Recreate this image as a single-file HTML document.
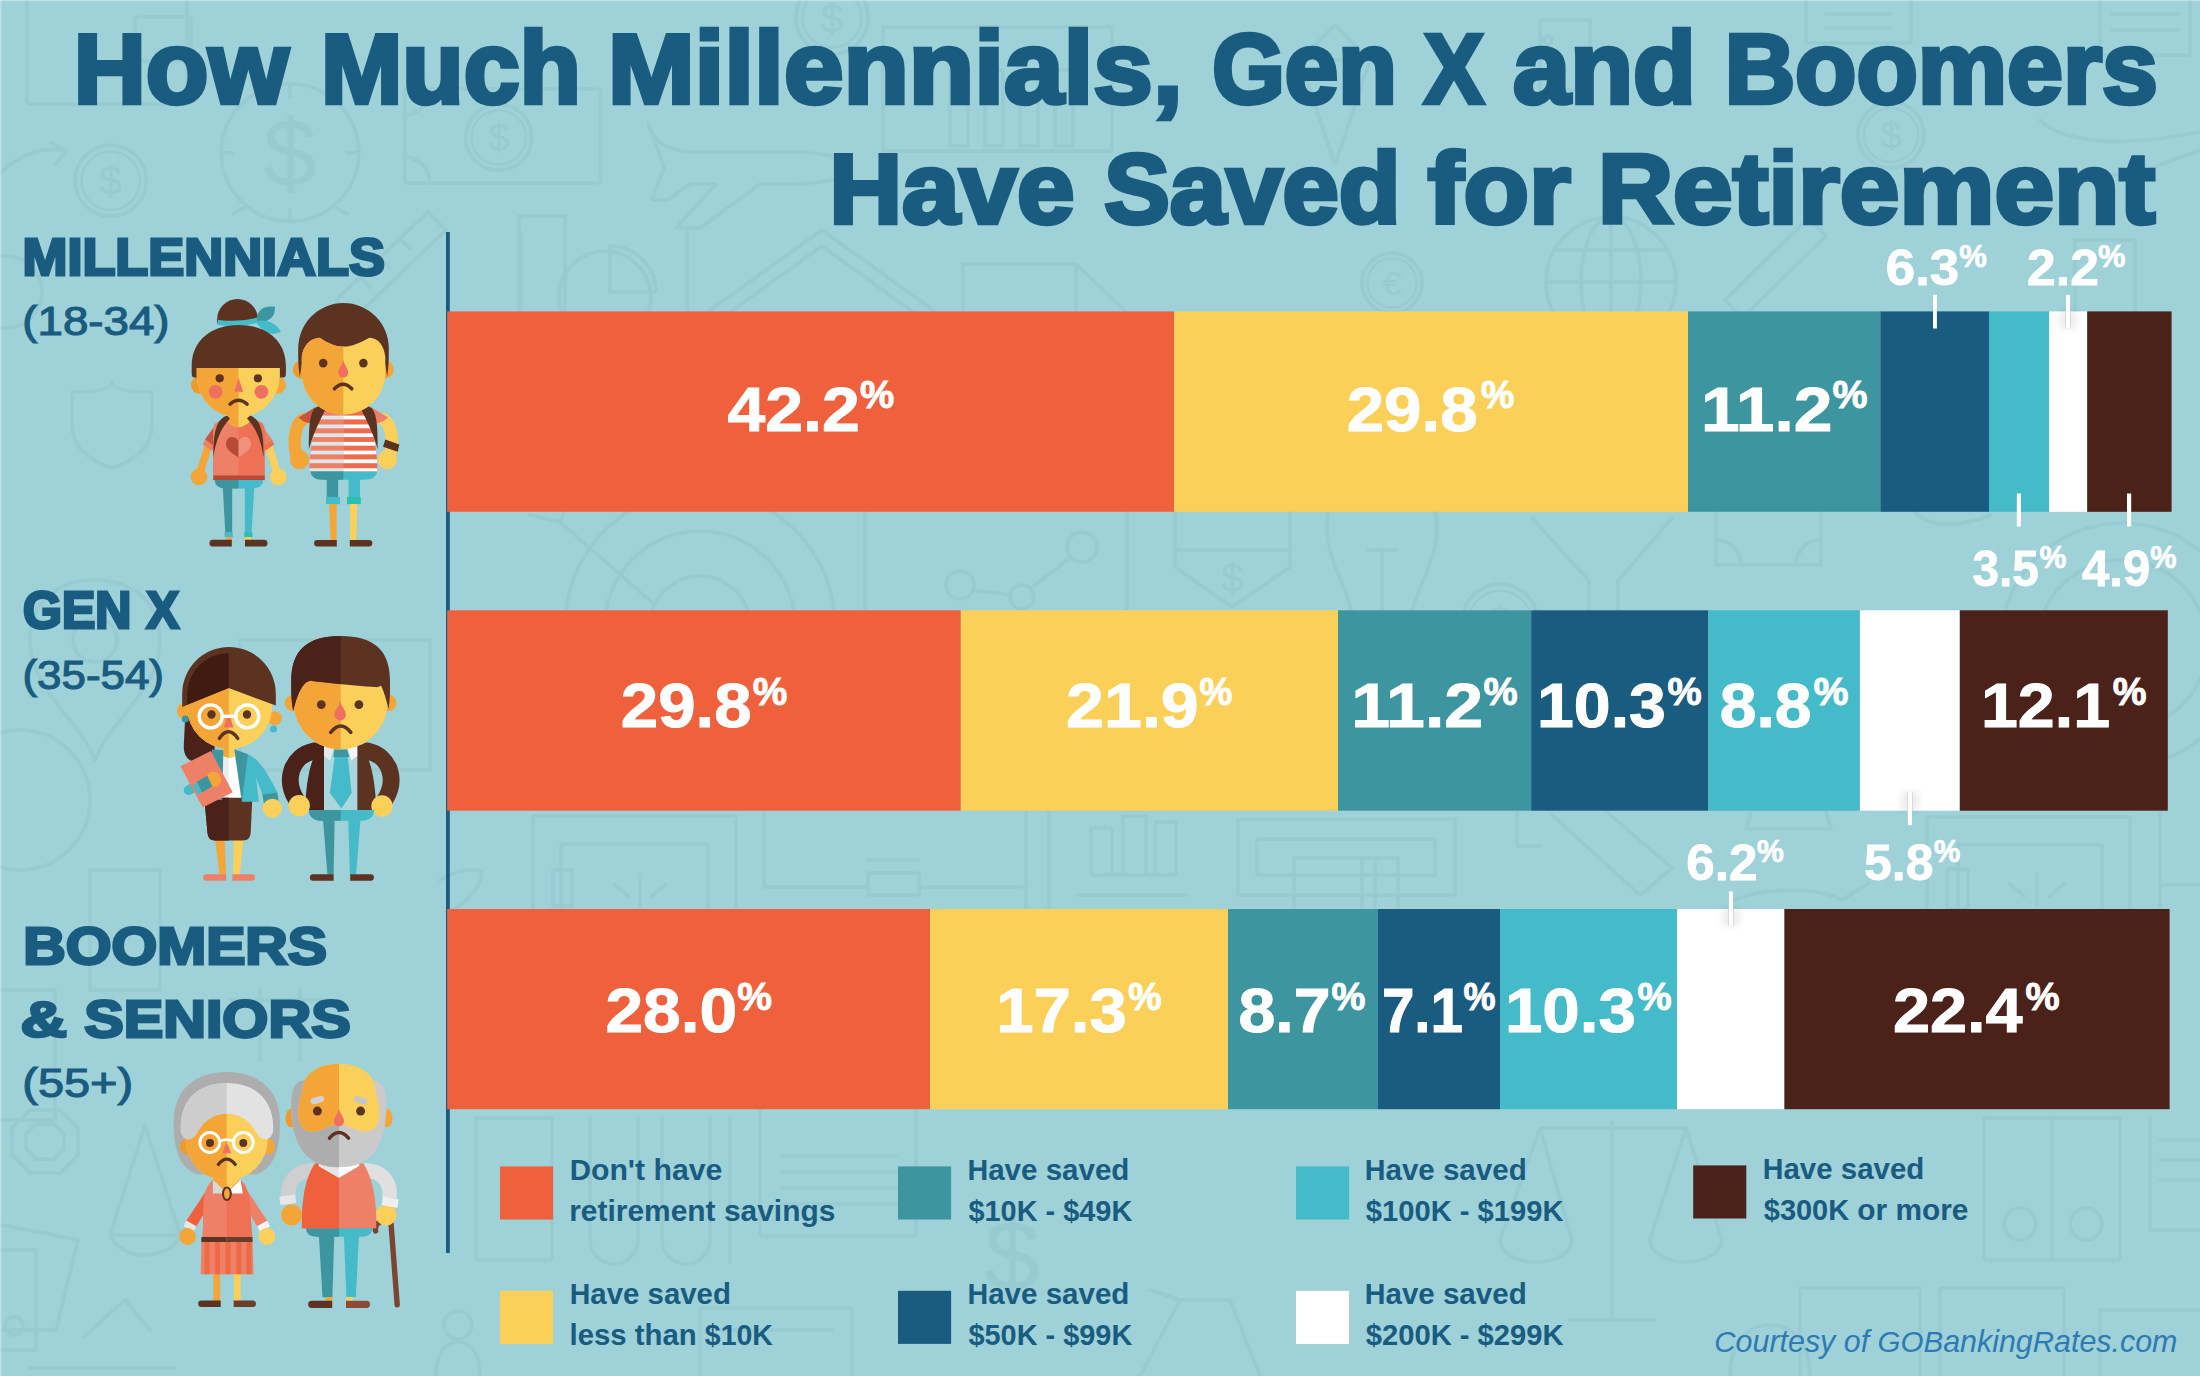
<!DOCTYPE html><html><head><meta charset="utf-8"><title>How Much Millennials, Gen X and Boomers Have Saved for Retirement</title>
<style>html,body{margin:0;padding:0;background:#9ed1d8}body{width:2200px;height:1376px;overflow:hidden;font-family:"Liberation Sans",sans-serif}svg{display:block}text{font-family:"Liberation Sans",sans-serif;white-space:pre}</style></head><body>
<svg width="2200" height="1376" viewBox="0 0 2200 1376">
<rect width="2200" height="1376" fill="#9ed1d8"/>
<g fill="none" stroke="#97cad1" stroke-width="3.6" stroke-linejoin="round" stroke-linecap="round">
<rect x="27" y="-6" width="160" height="110" rx="3"/><rect x="135" y="17" width="56" height="44" rx="2"/>
<circle cx="110.7" cy="180.7" r="35.6"/><circle cx="110.7" cy="180.7" r="29.2" stroke-width="2.4"/>
<text x="110.7" y="195.4" font-size="41" text-anchor="middle" fill="#97cad1" stroke="none">$</text>
<path d="M2,172 A72,72 0 0 1 64,150 M52,143 L66,151 L56,164"/>
<circle cx="290" cy="152.7" r="68.7"/>
<text x="290" y="186" font-size="96" text-anchor="middle" fill="#97cad1" stroke="none">$</text>
<path d="M247,206 L233,214 M333,206 L347,214 M290,84 V96 M290,209 V221 M221,152.7 H233 M347,152.7 H359"/>
<rect x="404.6" y="89" width="196" height="94" rx="2"/>
<circle cx="498.7" cy="137.4" r="33"/><circle cx="498.7" cy="137.4" r="27.1" stroke-width="2.4"/>
<text x="498.7" y="151.1" font-size="38" text-anchor="middle" fill="#97cad1" stroke="none">$</text>
<path d="M404.6,115 A26,26 0 0 0 430,89 M404.6,157 A26,26 0 0 1 430,183"/>
<path d="M336,300 L428,212 L446,230 L354,318 Z M400,239 L410,249 M380,258 L390,268 M360,277 L370,287"/>
<rect x="519" y="216" width="46" height="102"/>
<circle cx="6" cy="292" r="36"/>
<path d="M72,392 Q112,392 112,382 Q112,392 152,392 V425 Q152,455 112,468 Q72,455 72,425 Z"/>
<path d="M648,122 C652,140 664,150 690,152 L790,152 C830,152 848,160 848,168 C848,176 830,184 790,184 L760,184 L700,228 H676 L716,184 H690 L668,200 H652 L664,168 L648,122 Z"/>
<path d="M709,311 L821.8,230 L934.5,311 M722,318 L821.8,246 L921.5,318"/>
<rect x="963" y="264" width="113" height="60"/><path d="M1076,264 L1125,311"/>
<circle cx="604.8" cy="297.3" r="46"/><path d="M610,246 V292 H656 A46,46 0 0 0 610,246 Z"/>
<path d="M520.7,232 V311 M687,232 V311"/>
<rect x="883" y="27" width="229" height="124"/>
<rect x="950" y="70" width="18" height="76"/>
<rect x="985" y="70" width="18" height="76"/>
<rect x="1020" y="70" width="18" height="76"/>
<rect x="1055" y="70" width="18" height="76"/>
<circle cx="832" cy="18" r="36"/><circle cx="832" cy="18" r="29.5" stroke-width="2.4"/>
<text x="832" y="32.9" font-size="41" text-anchor="middle" fill="#97cad1" stroke="none">$</text>
<path d="M1300,60 L1335,25 L1370,60 L1335,165 Z M1300,60 H1370"/>
<circle cx="1392" cy="283" r="30"/><circle cx="1392" cy="283" r="24.6" stroke-width="2.4"/>
<text x="1392" y="295.4" font-size="34" text-anchor="middle" fill="#97cad1" stroke="none">€</text>
<circle cx="1611" cy="282" r="65"/><ellipse cx="1611" cy="282" rx="30" ry="65"/><path d="M1546,282 H1676 M1611,217 V347 M1556,250 H1666"/>
<path d="M1725,300 L1808,218 L1826,236 L1742,318 Z"/>
<circle cx="1891" cy="135" r="33"/><circle cx="1891" cy="135" r="27.1" stroke-width="2.4"/>
<text x="1891" y="148.7" font-size="38" text-anchor="middle" fill="#97cad1" stroke="none">$</text>
<rect x="1806" y="-5" width="105" height="48"/><path d="M1826,14 H1890 M1826,28 H1890"/>
<rect x="1540" y="20" width="50" height="70"/><circle cx="1548" cy="40" r="4"/>
<rect x="2100" y="-5" width="90" height="60"/><path d="M2112,14 H2178 M2112,30 H2178"/>
<path d="M2040,120 C2060,140 2110,150 2200,132 M2060,170 L2130,176 L2200,150"/>
<rect x="2075" y="240" width="60" height="75"/>
<circle cx="2122" cy="645" r="85"/><circle cx="2122" cy="645" r="122"/>
<path d="M1532,518 L1589,581 V612 M1672,518 L1618,581 V612"/>
<rect x="1716" y="505" width="105" height="60"/><path d="M1716,540 A25,25 0 0 1 1741,565 M1821,540 A25,25 0 0 0 1796,565"/>
<path d="M1915,512 C1930,528 1960,528 1990,515"/>
<path d="M30,1110 H60 L78,1128 V1155 L60,1173 H30 L12,1155 V1128 Z M36,1124 H54 L64,1134 V1149 L54,1159 H36 L26,1149 V1134 Z"/>
<path d="M145,1125 L110,1235 A36,26 0 0 0 180,1235 Z M110,1235 H180"/>
<path d="M2,1225 L78,1240 L56,1330 H2 M2,1250 H36 V1350 H2"/>
<circle cx="14" cy="1326" r="9"/>
<path d="M85,1336 L125,1300 L150,1330 M30,1368 H175"/>
<circle cx="700" cy="626" r="135"/>
<circle cx="700" cy="626" r="95"/>
<circle cx="700" cy="626" r="50"/>
<path d="M530,515 L560,522 L655,605 M560,522 L566,505"/>
<rect x="865" y="505" width="262" height="115"/><circle cx="960" cy="585" r="14"/><circle cx="1022" cy="597" r="12"/><circle cx="1082" cy="547" r="15"/><path d="M973,590 L1010,595 M1031,588 L1071,557"/>
<path d="M1175,505 V567 L1232,607 L1290,567 V505 M1175,550 H1290"/>
<text x="1232" y="592" font-size="40" text-anchor="middle" fill="#97cad1" stroke="none">$</text>
<path d="M1330,505 C1318,550 1345,580 1352,612 M1434,505 C1446,550 1419,580 1412,612 M1382,550 V612 M1368,550 H1396"/>
<circle cx="1500" cy="622" r="38"/><circle cx="1500" cy="622" r="31.2" stroke-width="2.4"/>
<text x="1500" y="637.7" font-size="44" text-anchor="middle" fill="#97cad1" stroke="none">$</text>
<rect x="533" y="816" width="203" height="110"/><rect x="561" y="844" width="147" height="80"/><rect x="553" y="870" width="19" height="36"/>
<path d="M640,905 V875 M615,885 L628,896 M665,885 L652,896"/>
<path d="M764,812 V887 H868 M919,887 H1023 M868,860 H919"/><rect x="868" y="873" width="51" height="22"/>
<path d="M1026,812 V908 M1049,812 V908"/>
<path d="M1091,875 V828 H1112 V875 M1123,875 V816 H1146 V875 M1155,875 V822 H1176 V875 M1091,875 H1176 M1077,895 H1187"/>
<rect x="1238" y="819" width="217" height="76"/><rect x="1257" y="839" width="178" height="36"/><rect x="1294" y="858" width="104" height="60"/><path d="M1362,858 V915 M1375,858 V915"/>
<path d="M1517,812 V846 H1540 M1552,815 L1640,895 L1672,868 L1600,806"/>
<path d="M440,880 C455,870 475,868 482,872 C480,890 465,905 446,912"/>
<rect x="1927" y="817" width="203" height="110"/><rect x="1958" y="845" width="144" height="80"/><rect x="1947" y="869" width="21" height="40"/>
<path d="M2037,905 V873 M2010,884 L2024,896 M2064,884 L2050,896 M2160,812 V915 M2160,885 H2200"/>
<path d="M1752,808 L1746,829 H1831 L1825,808 M1734,900 C1770,886 1820,888 1842,900 L1869,883"/>
<rect x="476" y="1118" width="76" height="142"/>
<path d="M590,1118 V1240 A24,24 0 0 0 638,1240 V1118 M662,1118 V1240 A24,24 0 0 0 710,1240 V1118 M730,1118 V1262"/>
<rect x="760" y="1105" width="156" height="131"/><path d="M782,1156 H896 M782,1172 H896 M782,1188 H896 M782,1204 H896"/>
<text x="1012" y="1290" font-size="100" text-anchor="middle" fill="#97cad1" stroke="none">$</text>
<path d="M1612,1122 V1320 M1540,1128 H1686 M1540,1128 L1500,1240 A36,22 0 0 0 1572,1240 Z M1686,1128 L1650,1240 A36,22 0 0 0 1722,1240 Z M1570,1320 H1654"/>
<rect x="1984" y="1118" width="136" height="142"/><path d="M2052,1118 V1260"/><circle cx="2020" cy="1224" r="16"/><circle cx="2086" cy="1224" r="16"/>
<path d="M2160,1140 H2200 M2160,1160 H2200 M2160,1180 H2200 M2150,1118 V1230 H2200"/>
<rect x="1800" y="1288" width="120" height="95"/><rect x="1940" y="1288" width="124" height="95"/><rect x="2100" y="1310" width="110" height="70"/>
<path d="M1730,1376 C1730,1345 1745,1325 1770,1325 C1795,1325 1810,1345 1810,1376"/>
<rect x="700" y="1308" width="152" height="80"/><path d="M720,1330 H832"/>
<circle cx="458" cy="1325" r="14"/><path d="M436,1376 C436,1352 446,1342 458,1342 C470,1342 480,1352 480,1376"/>
<path d="M1140,1376 L1180,1300 L1230,1300 L1260,1376 M1180,1300 L1150,1290"/>
<path d="M30,640 C30,600 60,580 95,580 C130,580 160,600 160,640 C160,690 110,720 95,760 C80,720 30,690 30,640 Z"/><circle cx="95" cy="640" r="22"/>
<circle cx="20" cy="800" r="70"/>
<rect x="-5" y="990" width="60" height="130"/><rect x="90" y="870" width="70" height="120"/>
<path d="M260,990 V1060 M300,990 V1060 M230,1000 H330"/>
<rect x="240" y="640" width="190" height="130"/>
</g>
<rect x="0" y="0" width="2200" height="1.3" fill="#fff" opacity="0.35"/><rect x="0" y="0" width="1.6" height="1376" fill="#fff" opacity="0.3"/>
<text transform="matrix(0.9976 0 0 0.9855 73.77 103.25)" font-size="100" font-weight="bold" fill="#1a5b80" stroke="#1a5b80" stroke-width="4.54" stroke-linejoin="miter"><tspan>H</tspan><tspan font-size="103">ow</tspan></text>
<text transform="matrix(0.9763 0 0 0.9855 320.90 103.25)" font-size="100" font-weight="bold" fill="#1a5b80" stroke="#1a5b80" stroke-width="4.59" stroke-linejoin="miter"><tspan>M</tspan><tspan font-size="103">uch</tspan></text>
<text transform="matrix(1.0399 0 0 0.9855 607.99 103.25)" font-size="100" font-weight="bold" fill="#1a5b80" stroke="#1a5b80" stroke-width="4.45" stroke-linejoin="miter"><tspan>M</tspan><tspan font-size="103">illennials,</tspan></text>
<text transform="matrix(0.9320 0 0 0.9855 1212.27 103.25)" font-size="100" font-weight="bold" fill="#1a5b80" stroke="#1a5b80" stroke-width="4.70" stroke-linejoin="miter"><tspan>G</tspan><tspan font-size="103">en</tspan></text>
<text transform="matrix(0.8915 0 0 0.9855 1424.36 103.25)" font-size="100" font-weight="bold" fill="#1a5b80" stroke="#1a5b80" stroke-width="4.80" stroke-linejoin="miter"><tspan>X</tspan></text>
<text transform="matrix(0.9986 0 0 0.9855 1513.00 103.25)" font-size="100" font-weight="bold" fill="#1a5b80" stroke="#1a5b80" stroke-width="4.54" stroke-linejoin="miter"><tspan font-size="103">and</tspan></text>
<text transform="matrix(0.9752 0 0 0.9855 1724.66 103.25)" font-size="100" font-weight="bold" fill="#1a5b80" stroke="#1a5b80" stroke-width="4.59" stroke-linejoin="miter"><tspan>B</tspan><tspan font-size="103">oomers</tspan></text>
<text transform="matrix(1.0043 0 0 0.9783 829.47 223.25)" font-size="100" font-weight="bold" fill="#1a5b80" stroke="#1a5b80" stroke-width="4.54" stroke-linejoin="miter"><tspan>H</tspan><tspan font-size="103">ave</tspan></text>
<text transform="matrix(0.9828 0 0 0.9783 1104.30 223.25)" font-size="100" font-weight="bold" fill="#1a5b80" stroke="#1a5b80" stroke-width="4.59" stroke-linejoin="miter"><tspan>S</tspan><tspan font-size="103">aved</tspan></text>
<text transform="matrix(1.0412 0 0 0.9783 1427.67 223.25)" font-size="100" font-weight="bold" fill="#1a5b80" stroke="#1a5b80" stroke-width="4.46" stroke-linejoin="miter"><tspan font-size="103">for</tspan></text>
<text transform="matrix(1.0398 0 0 0.9783 1597.99 223.25)" font-size="100" font-weight="bold" fill="#1a5b80" stroke="#1a5b80" stroke-width="4.46" stroke-linejoin="miter"><tspan>R</tspan><tspan font-size="103">etirement</tspan></text>
<rect x="446" y="232" width="3.8" height="1021" fill="#1a5b80"/>
<rect x="447.2" y="311.4" width="727.00" height="200.40000000000003" fill="#ef613d"/>
<rect x="1174.2" y="311.4" width="513.80" height="200.40000000000003" fill="#fbd058"/>
<rect x="1688" y="311.4" width="192.40" height="200.40000000000003" fill="#3d969f"/>
<rect x="1880.4" y="311.4" width="108.60" height="200.40000000000003" fill="#1a5b80"/>
<rect x="1989" y="311.4" width="60.10" height="200.40000000000003" fill="#45bac8"/>
<rect x="2049.1" y="311.4" width="38.10" height="200.40000000000003" fill="#ffffff"/>
<rect x="2087.2" y="311.4" width="84.40" height="200.40000000000003" fill="#4a2219"/>
<rect x="447.2" y="610.3" width="513.60" height="200.4000000000001" fill="#ef613d"/>
<rect x="960.8" y="610.3" width="377.20" height="200.4000000000001" fill="#fbd058"/>
<rect x="1338" y="610.3" width="193.20" height="200.4000000000001" fill="#3d969f"/>
<rect x="1531.2" y="610.3" width="177.10" height="200.4000000000001" fill="#1a5b80"/>
<rect x="1708.3" y="610.3" width="151.60" height="200.4000000000001" fill="#45bac8"/>
<rect x="1859.9" y="610.3" width="99.90" height="200.4000000000001" fill="#ffffff"/>
<rect x="1959.8" y="610.3" width="208.00" height="200.4000000000001" fill="#4a2219"/>
<rect x="447.2" y="909" width="482.80" height="200.20000000000005" fill="#ef613d"/>
<rect x="930" y="909" width="298.00" height="200.20000000000005" fill="#fbd058"/>
<rect x="1228" y="909" width="150.00" height="200.20000000000005" fill="#3d969f"/>
<rect x="1378" y="909" width="122.00" height="200.20000000000005" fill="#1a5b80"/>
<rect x="1500" y="909" width="177.00" height="200.20000000000005" fill="#45bac8"/>
<rect x="1677" y="909" width="107.40" height="200.20000000000005" fill="#ffffff"/>
<rect x="1784.4" y="909" width="385.20" height="200.20000000000005" fill="#4a2219"/>
<defs><filter id="blur3" x="-100%" y="-50%" width="300%" height="200%"><feGaussianBlur stdDeviation="3.5"/></filter></defs>
<text transform="matrix(0.6799 0 0 0.6314 727.48 430.75)" font-size="100" font-weight="bold" fill="#ffffff" stroke="#ffffff" stroke-width="1.53" stroke-linejoin="miter">42.2</text>
<text transform="matrix(0.3851 0 0 0.3872 859.99 408.21)" font-size="100" font-weight="bold" fill="#ffffff" stroke="#ffffff" stroke-width="2.33" stroke-linejoin="miter">%</text>
<text transform="matrix(0.6729 0 0 0.6314 1346.64 430.75)" font-size="100" font-weight="bold" fill="#ffffff" stroke="#ffffff" stroke-width="1.53" stroke-linejoin="miter">29.8</text>
<text transform="matrix(0.3762 0 0 0.3872 1481.01 408.21)" font-size="100" font-weight="bold" fill="#ffffff" stroke="#ffffff" stroke-width="2.36" stroke-linejoin="miter">%</text>
<text transform="matrix(0.6958 0 0 0.6314 1700.98 430.75)" font-size="100" font-weight="bold" fill="#ffffff" stroke="#ffffff" stroke-width="1.51" stroke-linejoin="miter">11.2</text>
<text transform="matrix(0.3940 0 0 0.3872 1832.46 408.21)" font-size="100" font-weight="bold" fill="#ffffff" stroke="#ffffff" stroke-width="2.30" stroke-linejoin="miter">%</text>
<text transform="matrix(0.5288 0 0 0.4971 1885.75 284.90)" font-size="100" font-weight="bold" fill="#ffffff" stroke="#ffffff" stroke-width="1.56" stroke-linejoin="miter">6.3</text>
<text transform="matrix(0.3107 0 0 0.3106 1959.27 266.84)" font-size="100" font-weight="bold" fill="#ffffff" stroke="#ffffff" stroke-width="2.25" stroke-linejoin="miter">%</text>
<text transform="matrix(0.5163 0 0 0.4971 2027.09 284.90)" font-size="100" font-weight="bold" fill="#ffffff" stroke="#ffffff" stroke-width="1.58" stroke-linejoin="miter">2.2</text>
<text transform="matrix(0.3095 0 0 0.3106 2098.08 266.84)" font-size="100" font-weight="bold" fill="#ffffff" stroke="#ffffff" stroke-width="2.26" stroke-linejoin="miter">%</text>
<text transform="matrix(0.4769 0 0 0.4971 1972.51 586.00)" font-size="100" font-weight="bold" fill="#ffffff" stroke="#ffffff" stroke-width="1.64" stroke-linejoin="miter">3.5</text>
<text transform="matrix(0.3024 0 0 0.3106 2039.39 567.94)" font-size="100" font-weight="bold" fill="#ffffff" stroke="#ffffff" stroke-width="2.28" stroke-linejoin="miter">%</text>
<text transform="matrix(0.4903 0 0 0.4971 2082.06 586.00)" font-size="100" font-weight="bold" fill="#ffffff" stroke="#ffffff" stroke-width="1.62" stroke-linejoin="miter">4.9</text>
<text transform="matrix(0.2952 0 0 0.3106 2150.21 567.94)" font-size="100" font-weight="bold" fill="#ffffff" stroke="#ffffff" stroke-width="2.31" stroke-linejoin="miter">%</text>
<rect x="1933" y="294.8" width="3.90" height="33.70" fill="#fff"/>
<rect x="2059" y="311.4" width="17.90000000000009" height="17.100000000000023" fill="#000" opacity="0.07" filter="url(#blur3)"/>
<rect x="2065" y="311.4" width="5.900000000000091" height="17.100000000000023" fill="#d9d9d9"/>
<rect x="2066" y="294.8" width="3.90" height="33.70" fill="#fff"/>
<rect x="2016.8" y="493.5" width="4.20" height="33.00" fill="#fff"/>
<rect x="2127" y="493.5" width="4.20" height="33.00" fill="#fff"/>
<text transform="matrix(0.6718 0 0 0.6314 620.85 727.20)" font-size="100" font-weight="bold" fill="#ffffff" stroke="#ffffff" stroke-width="1.54" stroke-linejoin="miter">29.8</text>
<text transform="matrix(0.3893 0 0 0.3872 752.68 704.66)" font-size="100" font-weight="bold" fill="#ffffff" stroke="#ffffff" stroke-width="2.32" stroke-linejoin="miter">%</text>
<text transform="matrix(0.6816 0 0 0.6314 1066.11 727.20)" font-size="100" font-weight="bold" fill="#ffffff" stroke="#ffffff" stroke-width="1.52" stroke-linejoin="miter">21.9</text>
<text transform="matrix(0.3702 0 0 0.3872 1199.52 704.66)" font-size="100" font-weight="bold" fill="#ffffff" stroke="#ffffff" stroke-width="2.38" stroke-linejoin="miter">%</text>
<text transform="matrix(0.6980 0 0 0.6314 1351.16 727.20)" font-size="100" font-weight="bold" fill="#ffffff" stroke="#ffffff" stroke-width="1.51" stroke-linejoin="miter">11.2</text>
<text transform="matrix(0.3845 0 0 0.3872 1483.49 704.66)" font-size="100" font-weight="bold" fill="#ffffff" stroke="#ffffff" stroke-width="2.33" stroke-linejoin="miter">%</text>
<text transform="matrix(0.6623 0 0 0.6314 1536.99 727.20)" font-size="100" font-weight="bold" fill="#ffffff" stroke="#ffffff" stroke-width="1.55" stroke-linejoin="miter">10.3</text>
<text transform="matrix(0.3845 0 0 0.3872 1667.49 704.66)" font-size="100" font-weight="bold" fill="#ffffff" stroke="#ffffff" stroke-width="2.33" stroke-linejoin="miter">%</text>
<text transform="matrix(0.6602 0 0 0.6314 1719.72 727.20)" font-size="100" font-weight="bold" fill="#ffffff" stroke="#ffffff" stroke-width="1.55" stroke-linejoin="miter">8.8</text>
<text transform="matrix(0.3940 0 0 0.3872 1813.46 704.66)" font-size="100" font-weight="bold" fill="#ffffff" stroke="#ffffff" stroke-width="2.30" stroke-linejoin="miter">%</text>
<text transform="matrix(0.6631 0 0 0.6314 1980.99 727.20)" font-size="100" font-weight="bold" fill="#ffffff" stroke="#ffffff" stroke-width="1.55" stroke-linejoin="miter">12.1</text>
<text transform="matrix(0.3798 0 0 0.3872 2112.70 704.66)" font-size="100" font-weight="bold" fill="#ffffff" stroke="#ffffff" stroke-width="2.35" stroke-linejoin="miter">%</text>
<text transform="matrix(0.4992 0 0 0.4971 1864.10 880.40)" font-size="100" font-weight="bold" fill="#ffffff" stroke="#ffffff" stroke-width="1.61" stroke-linejoin="miter">5.8</text>
<text transform="matrix(0.2988 0 0 0.3106 1933.80 862.34)" font-size="100" font-weight="bold" fill="#ffffff" stroke="#ffffff" stroke-width="2.30" stroke-linejoin="miter">%</text>
<text transform="matrix(0.5118 0 0 0.4971 1686.21 880.40)" font-size="100" font-weight="bold" fill="#ffffff" stroke="#ffffff" stroke-width="1.59" stroke-linejoin="miter">6.2</text>
<text transform="matrix(0.3048 0 0 0.3106 1756.69 862.34)" font-size="100" font-weight="bold" fill="#ffffff" stroke="#ffffff" stroke-width="2.28" stroke-linejoin="miter">%</text>
<rect x="1900.8" y="792" width="18.200000000000045" height="18.600000000000023" fill="#000" opacity="0.07" filter="url(#blur3)"/>
<rect x="1906.8" y="792" width="6.2000000000000455" height="18.600000000000023" fill="#d9d9d9"/>
<rect x="1907.8" y="792" width="4.20" height="33.20" fill="#fff"/>
<rect x="1721.9" y="909" width="18.09999999999991" height="16.899999999999977" fill="#000" opacity="0.07" filter="url(#blur3)"/>
<rect x="1727.9" y="909" width="6.099999999999909" height="16.899999999999977" fill="#d9d9d9"/>
<rect x="1728.9" y="891.4" width="4.10" height="34.50" fill="#fff"/>
<text transform="matrix(0.6775 0 0 0.6314 605.43 1032.20)" font-size="100" font-weight="bold" fill="#ffffff" stroke="#ffffff" stroke-width="1.53" stroke-linejoin="miter">28.0</text>
<text transform="matrix(0.3905 0 0 0.3872 737.17 1009.66)" font-size="100" font-weight="bold" fill="#ffffff" stroke="#ffffff" stroke-width="2.31" stroke-linejoin="miter">%</text>
<text transform="matrix(0.6710 0 0 0.6314 996.14 1032.20)" font-size="100" font-weight="bold" fill="#ffffff" stroke="#ffffff" stroke-width="1.54" stroke-linejoin="miter">17.3</text>
<text transform="matrix(0.3750 0 0 0.3872 1128.31 1009.66)" font-size="100" font-weight="bold" fill="#ffffff" stroke="#ffffff" stroke-width="2.36" stroke-linejoin="miter">%</text>
<text transform="matrix(0.6616 0 0 0.6314 1238.52 1032.20)" font-size="100" font-weight="bold" fill="#ffffff" stroke="#ffffff" stroke-width="1.55" stroke-linejoin="miter">8.7</text>
<text transform="matrix(0.3821 0 0 0.3872 1331.49 1009.66)" font-size="100" font-weight="bold" fill="#ffffff" stroke="#ffffff" stroke-width="2.34" stroke-linejoin="miter">%</text>
<text transform="matrix(0.5833 0 0 0.6314 1381.88 1032.20)" font-size="100" font-weight="bold" fill="#ffffff" stroke="#ffffff" stroke-width="1.65" stroke-linejoin="miter">7.1</text>
<text transform="matrix(0.3607 0 0 0.3872 1463.55 1009.66)" font-size="100" font-weight="bold" fill="#ffffff" stroke="#ffffff" stroke-width="2.41" stroke-linejoin="miter">%</text>
<text transform="matrix(0.6732 0 0 0.6314 1504.92 1032.20)" font-size="100" font-weight="bold" fill="#ffffff" stroke="#ffffff" stroke-width="1.53" stroke-linejoin="miter">10.3</text>
<text transform="matrix(0.3845 0 0 0.3872 1637.49 1009.66)" font-size="100" font-weight="bold" fill="#ffffff" stroke="#ffffff" stroke-width="2.33" stroke-linejoin="miter">%</text>
<text transform="matrix(0.6667 0 0 0.6314 1892.97 1032.20)" font-size="100" font-weight="bold" fill="#ffffff" stroke="#ffffff" stroke-width="1.54" stroke-linejoin="miter">22.4</text>
<text transform="matrix(0.3845 0 0 0.3872 2025.49 1009.66)" font-size="100" font-weight="bold" fill="#ffffff" stroke="#ffffff" stroke-width="2.33" stroke-linejoin="miter">%</text>
<rect x="500" y="1166.4" width="53.1" height="53.1" fill="#ef613d"/>
<rect x="898" y="1166.4" width="53.1" height="53.1" fill="#3d969f"/>
<rect x="1296" y="1166.4" width="53.1" height="53.1" fill="#45bac8"/>
<rect x="1693.2" y="1165.4" width="53.1" height="53.1" fill="#4a2219"/>
<rect x="500" y="1290.8" width="53.1" height="53.1" fill="#fbd058"/>
<rect x="898" y="1290.8" width="53.1" height="53.1" fill="#1a5b80"/>
<rect x="1296" y="1290.8" width="53.1" height="53.1" fill="#ffffff"/>
<text transform="matrix(0.2938 0 0 0.2928 569.69 1179.70)" font-size="100" font-weight="bold" fill="#1a5b80"><tspan>D</tspan><tspan font-size="103">on't have</tspan></text>
<text transform="matrix(0.2907 0 0 0.2928 569.17 1220.90)" font-size="100" font-weight="bold" fill="#1a5b80"><tspan font-size="103">retirement savings</tspan></text>
<text transform="matrix(0.2869 0 0 0.2928 967.44 1179.70)" font-size="100" font-weight="bold" fill="#1a5b80"><tspan>H</tspan><tspan font-size="103">ave saved</tspan></text>
<text transform="matrix(0.2891 0 0 0.2928 968.47 1220.90)" font-size="100" font-weight="bold" fill="#1a5b80"><tspan>$10K - $49K</tspan></text>
<text transform="matrix(0.2869 0 0 0.2928 1364.74 1179.70)" font-size="100" font-weight="bold" fill="#1a5b80"><tspan>H</tspan><tspan font-size="103">ave saved</tspan></text>
<text transform="matrix(0.2916 0 0 0.2928 1365.76 1220.90)" font-size="100" font-weight="bold" fill="#1a5b80"><tspan>$100K - $199K</tspan></text>
<text transform="matrix(0.2863 0 0 0.2928 1762.74 1179.00)" font-size="100" font-weight="bold" fill="#1a5b80"><tspan>H</tspan><tspan font-size="103">ave saved</tspan></text>
<text transform="matrix(0.2900 0 0 0.2928 1763.76 1219.50)" font-size="100" font-weight="bold" fill="#1a5b80"><tspan>$300K </tspan><tspan font-size="103">or more</tspan></text>
<text transform="matrix(0.2856 0 0 0.2928 569.74 1303.90)" font-size="100" font-weight="bold" fill="#1a5b80"><tspan>H</tspan><tspan font-size="103">ave saved</tspan></text>
<text transform="matrix(0.2848 0 0 0.2928 569.61 1345.20)" font-size="100" font-weight="bold" fill="#1a5b80"><tspan font-size="103">less than </tspan><tspan>$10K</tspan></text>
<text transform="matrix(0.2869 0 0 0.2928 967.44 1303.90)" font-size="100" font-weight="bold" fill="#1a5b80"><tspan>H</tspan><tspan font-size="103">ave saved</tspan></text>
<text transform="matrix(0.2891 0 0 0.2928 968.47 1345.20)" font-size="100" font-weight="bold" fill="#1a5b80"><tspan>$50K - $99K</tspan></text>
<text transform="matrix(0.2869 0 0 0.2928 1364.74 1303.90)" font-size="100" font-weight="bold" fill="#1a5b80"><tspan>H</tspan><tspan font-size="103">ave saved</tspan></text>
<text transform="matrix(0.2916 0 0 0.2928 1365.76 1345.20)" font-size="100" font-weight="bold" fill="#1a5b80"><tspan>$200K - $299K</tspan></text>
<text transform="matrix(0.2953 0 0 0.3042 1714.28 1352.20)" font-size="100" font-style="italic" fill="#2e7ab2"><tspan>C</tspan><tspan font-size="103">ourtesy of </tspan><tspan>GOB</tspan><tspan font-size="103">anking</tspan><tspan>R</tspan><tspan font-size="103">ates.com</tspan></text>
<text transform="matrix(0.5393 0 0 0.5159 22.49 274.90)" font-size="100" font-weight="bold" fill="#1a5b80" stroke="#1a5b80" stroke-width="5.69" stroke-linejoin="miter">MILLENNIALS</text>
<text transform="matrix(0.4568 0 0 0.3986 22.36 335.40)" font-size="100" fill="#1a5b80" stroke="#1a5b80" stroke-width="2.81" stroke-linejoin="miter">(18-34)</text>
<text transform="matrix(0.4995 0 0 0.5174 23.10 628.10)" font-size="100" font-weight="bold" fill="#1a5b80" stroke="#1a5b80" stroke-width="5.90" stroke-linejoin="miter">GEN</text>
<text transform="matrix(0.4884 0 0 0.5174 146.51 628.10)" font-size="100" font-weight="bold" fill="#1a5b80" stroke="#1a5b80" stroke-width="5.97" stroke-linejoin="miter">X</text>
<text transform="matrix(0.4390 0 0 0.4114 22.47 688.99)" font-size="100" fill="#1a5b80" stroke="#1a5b80" stroke-width="2.82" stroke-linejoin="miter">(35-54)</text>
<text transform="matrix(0.5882 0 0 0.5101 23.18 964.00)" font-size="100" font-weight="bold" fill="#1a5b80" stroke="#1a5b80" stroke-width="5.48" stroke-linejoin="miter">BOOMERS</text>
<text transform="matrix(0.6450 0 0 0.5029 20.40 1036.70)" font-size="100" font-weight="bold" fill="#1a5b80" stroke="#1a5b80" stroke-width="5.27" stroke-linejoin="miter">&amp;</text>
<text transform="matrix(0.5919 0 0 0.5101 84.22 1037.20)" font-size="100" font-weight="bold" fill="#1a5b80" stroke="#1a5b80" stroke-width="5.46" stroke-linejoin="miter">SENIORS</text>
<text transform="matrix(0.4696 0 0 0.4114 22.28 1097.19)" font-size="100" fill="#1a5b80" stroke="#1a5b80" stroke-width="2.73" stroke-linejoin="miter">(55+)</text>
<defs><clipPath id="k1"><rect x="0" y="0" width="238.5" height="1376"/></clipPath><clipPath id="k2"><rect x="0" y="0" width="238.5" height="1376"/></clipPath><clipPath id="k3"><rect x="0" y="0" width="238.5" height="1376"/></clipPath><clipPath id="k4"><rect x="0" y="0" width="238.5" height="1376"/></clipPath><clipPath id="k5"><rect x="0" y="0" width="238.5" height="1376"/></clipPath><clipPath id="k6"><path d="M326,404.5 H361 C370,420 377,440 377.4,471.6 H309.2 C309.6,440 317,420 326,404.5 Z"/></clipPath><clipPath id="k7"><rect x="0" y="0" width="343.3" height="1376"/></clipPath><clipPath id="k8"><rect x="0" y="0" width="343.3" height="1376"/></clipPath><clipPath id="k9"><rect x="0" y="0" width="228.8" height="1376"/></clipPath><clipPath id="k10"><rect x="0" y="0" width="228.8" height="1376"/></clipPath><clipPath id="k11"><rect x="0" y="0" width="228.8" height="1376"/></clipPath><clipPath id="k12"><rect x="0" y="0" width="228.8" height="1376"/></clipPath><clipPath id="k13"><rect x="0" y="0" width="340.7" height="1376"/></clipPath><clipPath id="k14"><rect x="0" y="0" width="340.7" height="1376"/></clipPath><clipPath id="k15"><rect x="0" y="0" width="340.7" height="1376"/></clipPath><clipPath id="k16"><rect x="0" y="0" width="226.7" height="1376"/></clipPath><clipPath id="k17"><path d="M201.4,1241.5 H252.6 L253.5,1274.2 H200.7 Z"/></clipPath><clipPath id="k18"><rect x="0" y="0" width="226.7" height="1376"/></clipPath><clipPath id="k19"><rect x="0" y="0" width="226.7" height="1376"/></clipPath><clipPath id="k20"><rect x="0" y="0" width="226.7" height="1376"/></clipPath><clipPath id="k21"><rect x="0" y="0" width="339" height="1376"/></clipPath><clipPath id="k22"><rect x="0" y="0" width="339" height="1376"/></clipPath><clipPath id="k23"><rect x="0" y="0" width="339" height="1376"/></clipPath><clipPath id="k24"><rect x="0" y="0" width="339" height="1376"/></clipPath><clipPath id="k25"><rect x="0" y="0" width="339" height="1376"/></clipPath></defs>
<path d="M217.1,323 V319.4 A20.4,20.4 0 0 1 257.9,319.4 V323 Z" fill="#5c3321"/>
<path d="M256.5,321 C257,309 264,305.5 274.8,306.6 C276,316 270,321.5 259,323 Z" fill="#3d969f"/>
<path d="M256,321.5 C265,318.5 275,322 281,331.5 C272,336.5 262,333 256,321.5 Z" fill="#45bac8"/>
<path d="M217.6,322.2 Q237,325.5 257.6,320.2" fill="none" stroke="#45bac8" stroke-width="5.2" stroke-linecap="butt" stroke-linejoin="round"/>
<circle cx="200" cy="385" r="9" fill="#ef9a2c"/>
<circle cx="277" cy="385" r="9" fill="#f4a537"/>
<path d="M208.2,446 L200.5,471" fill="none" stroke="#f4a537" stroke-width="7.6" stroke-linecap="round" stroke-linejoin="round"/>
<circle cx="199" cy="477" r="8.4" fill="#f4a537"/>
<path d="M268.8,446 L276.5,471" fill="none" stroke="#fbd05a" stroke-width="7.6" stroke-linecap="round" stroke-linejoin="round"/>
<circle cx="278.3" cy="477" r="8.4" fill="#fbd05a"/>
<path d="M216,424 L205,439.5 L213.5,446 L217,440 Z" fill="#c7543c"/>
<path d="M205,439.5 L202.8,444.5 L212,451 L214,446 Z" fill="#ef8068"/>
<path d="M261,424 L272,439.5 L263.5,446 L260,440 Z" fill="#ef8068"/>
<path d="M272,439.5 L274.2,444.5 L265,451 L263,446 Z" fill="#ee7055"/>
<path d="M213.2,475.3 V431 Q213.2,420.5 224,420.5 H254 Q264.8,420.5 264.8,431 V475.3 Z" fill="#ee7055"/>
<path d="M213.2,475.3 V431 Q213.2,420.5 224,420.5 H254 Q264.8,420.5 264.8,431 V475.3 Z" fill="#ef8068" clip-path="url(#k1)"/>
<rect x="213.2" y="475.3" width="51.6" height="4.8" fill="#b84a35"/>
<path d="M227.5,408 H250 V421.5 Q238.5,433 227.5,421.5 Z" fill="#fbd05a"/>
<path d="M227.5,408 H250 V421.5 Q238.5,433 227.5,421.5 Z" fill="#f4a537" clip-path="url(#k2)"/>
<path d="M226.9,415.5 C218,419 213,428 213.4,457 C216,440 221,428 230,418.5 Z" fill="#5c3321"/>
<path d="M250.1,415.5 C259,419 264,428 263.6,457 C261,440 256,428 247,418.5 Z" fill="#5c3321"/>
<path d="M238.5,441.5 C236,435.3 226,435.3 226,444 C226,450 233,454 238.5,457.2 C244,454 251,450 251,444 C251,435.3 241,435.3 238.5,441.5 Z" fill="#f0917b"/>
<path d="M238.5,441.5 C236,435.3 226,435.3 226,444 C226,450 233,454 238.5,457.2 C244,454 251,450 251,444 C251,435.3 241,435.3 238.5,441.5 Z" fill="#b84a35" clip-path="url(#k3)"/>
<path d="M214.8,480 H263.2 Q263,488.5 251,488.5 H226 Q215,488.5 214.8,480 Z" fill="#45bac8"/>
<path d="M214.8,480 H263.2 Q263,488.5 251,488.5 H226 Q215,488.5 214.8,480 Z" fill="#3d969f" clip-path="url(#k4)"/>
<path d="M222.7,486 H232.2 V532.4 H225.3 Z" fill="#3d969f"/>
<path d="M244.8,486 H254.3 L251.6,532.4 H244.8 Z" fill="#45bac8"/>
<rect x="224.6" y="532.2" width="8.2" height="5" fill="#45bac8"/>
<rect x="244.2" y="532.2" width="8.2" height="5" fill="#2dbfad"/>
<rect x="226" y="537" width="6" height="3.2" fill="#f4a537"/>
<rect x="245" y="537" width="6" height="3.2" fill="#fbd05a"/>
<path d="M231.8,539.8 H212.90000000000003 A3.400000000000034,3.400000000000034 0 0 0 212.90000000000003,546.6 H231.8 Z" fill="#5c3321"/>
<path d="M245,539.8 H264.09999999999997 A3.400000000000034,3.400000000000034 0 0 1 264.09999999999997,546.6 H245 Z" fill="#5c3321"/>
<path d="M191.7,374 V366 C191.7,340 212,325 238.8,325 C265.6,325 285.9,340 285.9,366 V374 Q285.9,377.6 283,377.6 H279.7 V368 H196.8 V377.6 H194.6 Q191.7,377.6 191.7,374 Z" fill="#5c3321"/>
<path d="M196.8,367.9 H279.7 V376 A41.45,41.45 0 0 1 196.8,376 Z" fill="#fbd05a"/>
<path d="M196.8,367.9 H279.7 V376 A41.45,41.45 0 0 1 196.8,376 Z" fill="#f4a537" clip-path="url(#k5)"/>
<circle cx="219.7" cy="378.3" r="4.1" fill="#5c3321"/>
<circle cx="257.9" cy="378.3" r="4.1" fill="#5c3321"/>
<circle cx="215.6" cy="391.8" r="6.9" fill="#ef7060"/>
<circle cx="261.4" cy="391.8" r="6.9" fill="#ef7060"/>
<path d="M238.5,378 L234.4,391.8 H243.2 Z" fill="#ef7060"/>
<path d="M229.9,404.2 Q238.55,396.2 247.2,404.2" fill="none" stroke="#5c3321" stroke-width="3.3" stroke-linecap="round" stroke-linejoin="round"/>
<path d="M303,419.5 C294,425 293,445 297,456" fill="none" stroke="#f4a537" stroke-width="12.5" stroke-linecap="round" stroke-linejoin="round"/>
<circle cx="299.6" cy="459.7" r="9.6" fill="#f4a537"/>
<path d="M383.6,419.5 C392.6,425 393.6,445 389.6,456" fill="none" stroke="#fbd05a" stroke-width="12.5" stroke-linecap="round" stroke-linejoin="round"/>
<circle cx="387.3" cy="459.7" r="9.6" fill="#fbd05a"/>
<path d="M385.3,439.4 L399.4,444.5 L397.7,451.8 L383,446.8 Z" fill="#5c3321"/>
<path d="M298.6,417.5 L315.5,407 L312,424 L303.6,421.5 Z" fill="#c7543c"/>
<path d="M388.0,417.5 L371.1,407 L374.6,424 L383.0,421.5 Z" fill="#ef8068"/>
<g clip-path="url(#k6)">
<rect x="300" y="400" width="43.3" height="75" fill="#ef8068"/>
<rect x="343.3" y="400" width="45" height="75" fill="#ee6a4e"/>
<rect x="300" y="415.6" width="43.3" height="3.8" fill="#dde7e8"/>
<rect x="343.3" y="415.6" width="45" height="3.8" fill="#ffffff"/>
<rect x="300" y="424.5" width="43.3" height="3.8" fill="#dde7e8"/>
<rect x="343.3" y="424.5" width="45" height="3.8" fill="#ffffff"/>
<rect x="300" y="433.3" width="43.3" height="3.8" fill="#dde7e8"/>
<rect x="343.3" y="433.3" width="45" height="3.8" fill="#ffffff"/>
<rect x="300" y="441.90000000000003" width="43.3" height="3.8" fill="#dde7e8"/>
<rect x="343.3" y="441.90000000000003" width="45" height="3.8" fill="#ffffff"/>
<rect x="300" y="450.6" width="43.3" height="3.8" fill="#dde7e8"/>
<rect x="343.3" y="450.6" width="45" height="3.8" fill="#ffffff"/>
<rect x="300" y="459.40000000000003" width="43.3" height="3.8" fill="#dde7e8"/>
<rect x="343.3" y="459.40000000000003" width="45" height="3.8" fill="#ffffff"/>
<rect x="300" y="468.3" width="43.3" height="3.8" fill="#dde7e8"/>
<rect x="343.3" y="468.3" width="45" height="3.8" fill="#ffffff"/>
</g>
<path d="M314.9,408 C311,413 308.6,420 308.9,449.5 C311,440 318,423 327.6,405.4 L322,404.6 Z" fill="#5c3321"/>
<path d="M371.70000000000005,408 C375.6,413 378.0,420 377.70000000000005,449.5 C375.6,440 368.6,423 359.0,405.4 L364.6,404.6 Z" fill="#5c3321"/>
<path d="M310.4,471.5 H377.2 Q376,479.5 364,479.8 H323 Q311.5,479.5 310.4,471.5 Z" fill="#45bac8"/>
<path d="M310.4,471.5 H377.2 Q376,479.5 364,479.8 H323 Q311.5,479.5 310.4,471.5 Z" fill="#3d969f" clip-path="url(#k7)"/>
<rect x="326.7" y="478" width="11.4" height="19" fill="#3d969f"/>
<rect x="348.6" y="478" width="11.4" height="19" fill="#45bac8"/>
<rect x="326" y="496.9" width="14" height="7.3" fill="#45bac8"/>
<rect x="347" y="496.9" width="13.8" height="7.3" fill="#2dbfad"/>
<path d="M329.3,504 H336.6 L336.6,540.5 H330.6 Z" fill="#f4a537"/>
<path d="M350,504 H357.3 L356.2,540.5 H350 Z" fill="#fbd05a"/>
<path d="M336.8,540 H317.40000000000003 A3.3000000000000114,3.3000000000000114 0 0 0 317.40000000000003,546.6 H336.8 Z" fill="#5c3321"/>
<path d="M349.8,540 H369.0 A3.3000000000000114,3.3000000000000114 0 0 1 369.0,546.6 H349.8 Z" fill="#5c3321"/>
<circle cx="302" cy="369.6" r="9.2" fill="#ef9a2c"/>
<circle cx="384.6" cy="369.6" r="9.2" fill="#f4a537"/>
<path d="M299.8,376.5 C298,365 298.2,356 298.2,348.3 A45.3,45.3 0 0 1 388.8,348.3 C388.8,356 389,365 387.2,376.5 L384.5,360 H302.5 Z" fill="#5c3321"/>
<path d="M301.8,373 L301.8,357 C303,345 311,338 319.6,337.8 C327,343 335,346.6 343.4,346.6 C352,346.6 360,343 369.5,337.8 C378,338 384,345 385.3,357 L385.3,373 A41.75,41.75 0 0 1 301.8,373 Z" fill="#fbd05a"/>
<path d="M301.8,373 L301.8,357 C303,345 311,338 319.6,337.8 C327,343 335,346.6 343.4,346.6 C352,346.6 360,343 369.5,337.8 C378,338 384,345 385.3,357 L385.3,373 A41.75,41.75 0 0 1 301.8,373 Z" fill="#f4a537" clip-path="url(#k8)"/>
<circle cx="323.2" cy="363.1" r="4.3" fill="#5c3321"/>
<circle cx="363.4" cy="363.1" r="4.3" fill="#5c3321"/>
<path d="M343.2,360 C344.4,365.71500000000003 348.09999999999997,368.29 348.09999999999997,372.70000000000005 A4.9,4.9 0 0 1 338.3,372.70000000000005 C338.3,368.29 342.0,365.71500000000003 343.2,360 Z" fill="#ef7060"/>
<path d="M334.4,388.8 Q343.1,379.59999999999997 351.8,388.8" fill="none" stroke="#5c3321" stroke-width="3.5" stroke-linecap="round" stroke-linejoin="round"/>
<path d="M186,700 L183.8,745 C183,757 190,763.5 201,762 L215,753 L214,738 L198,730 Z" fill="#4a2219"/>
<circle cx="185.2" cy="710.8" r="8.4" fill="#f4a537"/>
<circle cx="274.8" cy="718.2" r="7" fill="#f4a537"/>
<path d="M187,706.4 A42.6,42.6 0 0 0 272.2,706.4 A42.6,42.6 0 0 0 187,706.4 Z" fill="#fbd05a"/>
<path d="M187,706.4 A42.6,42.6 0 0 0 272.2,706.4 A42.6,42.6 0 0 0 187,706.4 Z" fill="#f4a537" clip-path="url(#k9)"/>
<path d="M182.2,707 V693.8 A46.8,46.8 0 0 1 275.8,693.8 V705.6 L228.6,688 Z" fill="#5c3321"/>
<path d="M228.6,653.2 A41.3,40.6 0 0 0 187.3,693.8 V704.6 L228.6,688 Z" fill="#3f1b12"/>
<circle cx="185.3" cy="718.9" r="3.5" fill="#3d969f"/>
<circle cx="273.6" cy="729.1" r="3.5" fill="#45bac8"/>
<circle cx="211.5" cy="714.5" r="4.2" fill="#5c3321"/>
<circle cx="247" cy="714.5" r="4.2" fill="#5c3321"/>
<path d="M226.6,718 H230.6 L233.2,727.6 H224 Z" fill="#ef7060"/>
<circle cx="210.7" cy="716.4" r="11.5" fill="none" stroke="#fff" stroke-width="3.4"/>
<circle cx="247.3" cy="716.4" r="11.5" fill="none" stroke="#fff" stroke-width="3.4"/>
<rect x="222" y="714.6" width="14" height="3.4" fill="#fff"/>
<path d="M219.3,738.4 Q228.55,725.1999999999999 237.8,738.4" fill="none" stroke="#5c3321" stroke-width="3.4" stroke-linecap="round" stroke-linejoin="round"/>
<path d="M214.7,836 H224.5 L226.1,874.8 H219.6 Z" fill="#f4a537"/>
<path d="M233.7,836 H244.1 L239.7,874.8 H233 Z" fill="#fbd05a"/>
<path d="M226.1,874.2 H206.45 A3.25,3.25 0 0 0 206.45,880.7 H226.1 Z" fill="#ef8068"/>
<path d="M232.3,874.2 H251.75 A3.25,3.25 0 0 1 251.75,880.7 H232.3 Z" fill="#ef8068"/>
<path d="M223.2,744 H235 V757.5 H223.2 Z" fill="#fbd05a"/>
<path d="M223.2,744 H235 V757.5 H223.2 Z" fill="#f4a537" clip-path="url(#k10)"/>
<path d="M223,756.3 Q229,759.5 235,756.3 L241.2,798 H214 Z" fill="#ffffff"/>
<path d="M223,756.3 Q229,759.5 235,756.3 L241.2,798 H214 Z" fill="#ececec" clip-path="url(#k11)"/>
<path d="M204.3,797.8 H252.3 L250.7,833 Q250.2,840.4 243,840.4 H215 Q208,840.4 207.5,833 Z" fill="#5c3321"/>
<path d="M204.3,797.8 H252.3 L250.7,833 Q250.2,840.4 243,840.4 H215 Q208,840.4 207.5,833 Z" fill="#4a2219" clip-path="url(#k12)"/>
<path d="M212,749.3 L223.4,750.2 L222.2,800 H206 Z" fill="#3d969f"/>
<path d="M246.3,759.6 L247.9,754.2 C260,759 269.5,777 277.3,792.3 L262.6,794.6 L256.1,778.1 L258.8,801.7 H241.9 Z" fill="#45bac8"/>
<path d="M234.3,749.3 L247.9,754.2 L241.9,801.7 L235.6,757.6 Z" fill="#3d969f"/>
<path d="M262.4,794.6 L277.3,792.2 L278.6,800.6 L263.8,803.2 Z" fill="#3d969f"/>
<circle cx="272.4" cy="808.3" r="9.6" fill="#fbd05a"/>
<path d="M188.5,790.2 L200,784" fill="none" stroke="#45bac8" stroke-width="9.6" stroke-linecap="round" stroke-linejoin="round"/>
<path d="M180.4,766.2 L210.9,750.9 L232.7,792.3 L202.7,807.6 Z" fill="#ef8068"/>
<circle cx="213.4" cy="779.4" r="7.7" fill="#f4a537"/>
<path d="M196.8,781.8 L207.3,775.8 L212.4,786.4 L202,792.4 Z" fill="#3d969f"/>
<path d="M196.8,781.8 L202,792.4 L197.5,794.5 L193,785 Z" fill="#45bac8"/>
<path d="M314,751 C291,756 284,780 296.5,800" fill="none" stroke="#4a2219" stroke-width="16.8" stroke-linecap="round" stroke-linejoin="round"/>
<path d="M367.4,751 C390.4,756 397.4,780 384.9,800" fill="none" stroke="#5c3321" stroke-width="16.8" stroke-linecap="round" stroke-linejoin="round"/>
<path d="M309,744.5 H324 V810 H304.9 C306,790 308,770 314,757 Z" fill="#4a2219"/>
<path d="M372.4,744.5 H357.2 V810 H376.5 C375.4,790 373.4,770 367.4,757 Z" fill="#5c3321"/>
<rect x="324" y="744.5" width="33.2" height="65.5" fill="#a9d7dd"/>
<path d="M324,746 H334.5 L330.2,760.4 L324,756 Z" fill="#e4e9eb"/>
<path d="M357.2,746 H347 L351.4,760.4 L357.2,756 Z" fill="#f4f6f7"/>
<path d="M334.2,749.4 H347.1 L349.4,757 H333.4 Z" fill="#3d969f"/>
<path d="M334.6,757 H347.8 L351.6,793 L341.5,808.4 L329.9,793 Z" fill="#45bac8"/>
<circle cx="299.2" cy="805.6" r="10.7" fill="#fbd05a"/>
<circle cx="382" cy="806" r="10.7" fill="#fbd05a"/>
<path d="M308.8,810 H374.2 Q373.5,820.8 361,820.8 H322 Q309.5,820.8 308.8,810 Z" fill="#45bac8"/>
<path d="M308.8,810 H374.2 Q373.5,820.8 361,820.8 H322 Q309.5,820.8 308.8,810 Z" fill="#3d969f" clip-path="url(#k13)"/>
<path d="M322.9,818 H334.7 L333.6,874.4 H327.4 Z" fill="#3d969f"/>
<path d="M348.2,818 H360.6 L356.1,874.4 H349.9 Z" fill="#45bac8"/>
<path d="M333.6,874.2 H313.15 A3.25,3.25 0 0 0 313.15,880.7 H333.6 Z" fill="#5c3321"/>
<path d="M350.2,874.2 H370.65 A3.25,3.25 0 0 1 370.65,880.7 H350.2 Z" fill="#5c3321"/>
<circle cx="293" cy="703" r="8.3" fill="#f4a537"/>
<circle cx="388.3" cy="703" r="8.3" fill="#f4a537"/>
<path d="M293.8,702.3 A46.9,46.9 0 0 0 387.6,702.3 A46.9,46.9 0 0 0 293.8,702.3 Z" fill="#fbd05a"/>
<path d="M293.8,702.3 A46.9,46.9 0 0 0 387.6,702.3 A46.9,46.9 0 0 0 293.8,702.3 Z" fill="#f4a537" clip-path="url(#k14)"/>
<path d="M293.2,711 C291,700 291.3,690 291.3,681 C291.3,650.5 307,636.1 340.6,636.1 C374.2,636.1 390,650.5 390,681 C390,690 390.4,700 388.4,709 C386.5,700 384,692 381,685.6 C379,687.2 377.5,687.4 375,687.1 C352,685.2 330,683 312,680.9 C305,680.3 299,688 293.2,711 Z" fill="#5c3321"/>
<path d="M293.2,711 C291,700 291.3,690 291.3,681 C291.3,650.5 307,636.1 340.6,636.1 C374.2,636.1 390,650.5 390,681 C390,690 390.4,700 388.4,709 C386.5,700 384,692 381,685.6 C379,687.2 377.5,687.4 375,687.1 C352,685.2 330,683 312,680.9 C305,680.3 299,688 293.2,711 Z" fill="#4a2219" clip-path="url(#k15)"/>
<circle cx="321.3" cy="704.6" r="4.4" fill="#5c3321"/>
<circle cx="358.9" cy="704.6" r="4.4" fill="#5c3321"/>
<path d="M340.2,701 C341.4,707.165 345.9,709.5699999999999 345.9,714.6999999999999 A5.7,5.7 0 0 1 334.5,714.6999999999999 C334.5,709.5699999999999 339.0,707.165 340.2,701 Z" fill="#ef7060"/>
<path d="M330.7,732.3 Q340.75,719.7 350.8,732.3" fill="none" stroke="#5c3321" stroke-width="3.6" stroke-linecap="round" stroke-linejoin="round"/>
<path d="M173.6,1122 C173.6,1089 196,1072.1 226.7,1072.1 C257.5,1072.1 279.9,1089 279.9,1122 C279.9,1152 273,1169 256,1174.3 H197.5 C180.5,1169 173.6,1152 173.6,1122 Z" fill="#adadad"/>
<path d="M214,1179 L186,1221.2 L196,1227 L206,1210 Z" fill="#ef613d"/>
<path d="M239.5,1179 L267.6,1221.2 L257.6,1227 L247.6,1210 Z" fill="#ef8068"/>
<path d="M186.2,1220.6 L196.4,1226.2 L193.4,1231.6 L183.6,1226.6 Z" fill="#e6e9ea"/>
<path d="M267.3,1220.6 L257.1,1226.2 L260.1,1231.6 L269.9,1226.6 Z" fill="#f2f4f5"/>
<circle cx="187.5" cy="1236.5" r="8.4" fill="#f4a537"/>
<circle cx="266.9" cy="1236.5" r="8.4" fill="#fbd05a"/>
<rect x="213.4" y="1272" width="6.8" height="29" fill="#f4a537"/>
<rect x="234" y="1272" width="6.7" height="29" fill="#fbd05a"/>
<path d="M220.7,1300.6 H201.40000000000003 A3.2000000000000455,3.2000000000000455 0 0 0 201.40000000000003,1307 H220.7 Z" fill="#5c3321"/>
<path d="M233.7,1300.6 H252.79999999999995 A3.2000000000000455,3.2000000000000455 0 0 1 252.79999999999995,1307 H233.7 Z" fill="#6b3e2c"/>
<path d="M202.7,1237 L203.5,1205 C204,1192 208,1183 214,1179.4 H239.6 C245.5,1183 249.5,1192 250,1205 L252.3,1237 Z" fill="#ee7055"/>
<path d="M202.7,1237 L203.5,1205 C204,1192 208,1183 214,1179.4 H239.6 C245.5,1183 249.5,1192 250,1205 L252.3,1237 Z" fill="#ef8068" clip-path="url(#k16)"/>
<g clip-path="url(#k17)">
<rect x="200" y="1241" width="54" height="34" fill="#ef8068"/>
<rect x="204.5" y="1241" width="5" height="34" fill="#ee6a44"/>
<rect x="215" y="1241" width="5" height="34" fill="#ee6a44"/>
<rect x="225.5" y="1241" width="5" height="34" fill="#ee6a44"/>
<rect x="236.3" y="1241" width="5" height="34" fill="#ee6a44"/>
<rect x="246.5" y="1241" width="5" height="34" fill="#ee6a44"/>
</g>
<rect x="201.4" y="1237" width="25.3" height="5" fill="#5c3321"/>
<rect x="226.7" y="1237" width="25.9" height="5" fill="#6b3e2c"/>
<path d="M212.9,1179.4 L223.2,1189.4 L222,1193.4 H212.9 Z" fill="#d6d9da"/>
<path d="M240.5,1179.4 L230.4,1189.4 L231.8,1193.4 H242.8 Z" fill="#ffffff"/>
<path d="M213.8,1172 H239.8 V1179.6 L226.7,1192.5 L213.8,1179.6 Z" fill="#fbd05a"/>
<path d="M213.8,1172 H239.8 V1179.6 L226.7,1192.5 L213.8,1179.6 Z" fill="#f4a537" clip-path="url(#k18)"/>
<ellipse cx="226.9" cy="1193.7" rx="3.9" ry="6.3" fill="#f4a537" stroke="#5c3321" stroke-width="2"/>
<circle cx="188" cy="1146.5" r="8" fill="#ef9a2c"/>
<circle cx="266.9" cy="1146.5" r="8" fill="#f4a537"/>
<path d="M185.6,1139.4 A41.1,41.1 0 0 0 267.8,1139.4 A41.1,41.1 0 0 0 185.6,1139.4 Z" fill="#fbd05a"/>
<path d="M185.6,1139.4 A41.1,41.1 0 0 0 267.8,1139.4 A41.1,41.1 0 0 0 185.6,1139.4 Z" fill="#f4a537" clip-path="url(#k19)"/>
<path d="M180.8,1128 C180.8,1098 200,1083 226.7,1083 C253.5,1083 273.3,1098 273.3,1128 C273.3,1141 262,1143 256.5,1133 C250,1120.5 240,1113.8 226.7,1113.8 C213.5,1113.8 203.5,1120.5 197,1133 C191.5,1143 180.8,1141 180.8,1128 Z" fill="#e2e2e2"/>
<path d="M180.8,1128 C180.8,1098 200,1083 226.7,1083 C253.5,1083 273.3,1098 273.3,1128 C273.3,1141 262,1143 256.5,1133 C250,1120.5 240,1113.8 226.7,1113.8 C213.5,1113.8 203.5,1120.5 197,1133 C191.5,1143 180.8,1141 180.8,1128 Z" fill="#cdcdcd" clip-path="url(#k20)"/>
<circle cx="210" cy="1143" r="4" fill="#5c3321"/>
<circle cx="243.3" cy="1143" r="4" fill="#5c3321"/>
<path d="M226.7,1142.5 L222.4,1153.2 H231.2 Z" fill="#ef7060"/>
<circle cx="209.8" cy="1142.5" r="9.9" fill="none" stroke="#fff" stroke-width="3"/>
<circle cx="243.3" cy="1142.5" r="9.9" fill="none" stroke="#fff" stroke-width="3"/>
<path d="M220.4,1141.2 Q226.6,1138 232.8,1141.2" fill="none" stroke="#fff" stroke-width="2.6" stroke-linecap="butt" stroke-linejoin="round"/>
<path d="M218.4,1164.4 Q226.8,1154.0 235.2,1164.4" fill="none" stroke="#5c3321" stroke-width="3.3" stroke-linecap="round" stroke-linejoin="round"/>
<path d="M314,1170 C292,1171 287,1186 288.5,1198" fill="none" stroke="#cfcfcf" stroke-width="14.6" stroke-linecap="butt" stroke-linejoin="round"/>
<path d="M364,1170 C386,1171 391,1186 389.5,1198" fill="none" stroke="#e0e0e0" stroke-width="14.6" stroke-linecap="butt" stroke-linejoin="round"/>
<path d="M375.6,1231 C374,1222 384,1219 391,1223 L397.2,1304.8" fill="none" stroke="#7a4530" stroke-width="5.4" stroke-linecap="round" stroke-linejoin="round"/>
<circle cx="291.6" cy="1215" r="10.5" fill="#f4a537"/>
<circle cx="386.1" cy="1215" r="10.5" fill="#fbd05a"/>
<path d="M279.3,1196.6 L295.2,1194.4 L296.2,1203 L280.5,1205.2 Z" fill="#e6e6e6"/>
<path d="M398.7,1199.4 L382.8,1196.4 L381.8,1205 L397.5,1208 Z" fill="#efefef"/>
<path d="M305.8,1228 H372.6 Q372,1236.8 360,1236.8 H318 Q306.4,1236.8 305.8,1228 Z" fill="#45bac8"/>
<path d="M305.8,1228 H372.6 Q372,1236.8 360,1236.8 H318 Q306.4,1236.8 305.8,1228 Z" fill="#3d969f" clip-path="url(#k21)"/>
<path d="M318.8,1234 H334.3 L332.4,1297.2 H322.5 Z" fill="#3d969f"/>
<path d="M343.9,1234 H359 L355.9,1297.2 H346.4 Z" fill="#45bac8"/>
<rect x="325.6" y="1297" width="6.8" height="4" fill="#f4a537"/>
<rect x="346.4" y="1297" width="6.4" height="4" fill="#fbd05a"/>
<path d="M332.2,1300.7 H311.75 A3.6499999999999773,3.6499999999999773 0 0 0 311.75,1308 H332.2 Z" fill="#5c3321"/>
<path d="M346,1300.7 H366.45000000000005 A3.6499999999999773,3.6499999999999773 0 0 1 366.45000000000005,1308 H346 Z" fill="#8a4a35"/>
<path d="M301.9,1228.2 C301.5,1200 305,1178 315.1,1163.4 H363.3 C373,1178 376.7,1200 376.3,1228.2 Z" fill="#ef8068"/>
<path d="M301.9,1228.2 C301.5,1200 305,1178 315.1,1163.4 H363.3 C373,1178 376.7,1200 376.3,1228.2 Z" fill="#ef613d" clip-path="url(#k22)"/>
<path d="M318.8,1163.4 H359.2 V1166 L339,1177.8 L318.8,1166 Z" fill="#ffffff"/>
<path d="M318.8,1163.4 H359.2 V1166 L339,1177.8 L318.8,1166 Z" fill="#e4e4e4" clip-path="url(#k23)"/>
<ellipse cx="291" cy="1118" rx="5.5" ry="9.2" fill="#ef9a2c"/>
<ellipse cx="387" cy="1118" rx="5.5" ry="9.2" fill="#f4a537"/>
<path d="M291.1,1104 C291.1,1090 295,1081 303,1080.5 L375,1080.5 C383,1081 386.4,1090 386.4,1104 C386.4,1148 370,1167.3 339,1167.3 C308,1167.3 291.1,1148 291.1,1104 Z" fill="#cacaca"/>
<path d="M291.1,1104 C291.1,1090 295,1081 303,1080.5 L375,1080.5 C383,1081 386.4,1090 386.4,1104 C386.4,1148 370,1167.3 339,1167.3 C308,1167.3 291.1,1148 291.1,1104 Z" fill="#adadad" clip-path="url(#k24)"/>
<path d="M304.2,1081.5 C310,1069 324,1063.7 339,1063.7 C354,1063.7 368,1069 373.8,1081.5 C376,1095 380,1104 379.6,1115.5 C379,1127 373,1131.5 366,1131.5 C356,1131.5 349,1124.5 339,1124.2 C329,1124.5 322,1131.5 312,1131.5 C305,1131.5 299,1127 298.4,1115.5 C298,1104 302,1095 304.2,1081.5 Z" fill="#fbd05a"/>
<path d="M304.2,1081.5 C310,1069 324,1063.7 339,1063.7 C354,1063.7 368,1069 373.8,1081.5 C376,1095 380,1104 379.6,1115.5 C379,1127 373,1131.5 366,1131.5 C356,1131.5 349,1124.5 339,1124.2 C329,1124.5 322,1131.5 312,1131.5 C305,1131.5 299,1127 298.4,1115.5 C298,1104 302,1095 304.2,1081.5 Z" fill="#f4a537" clip-path="url(#k25)"/>
<path d="M313.6,1101.2 L321,1099" fill="none" stroke="#d2d2d2" stroke-width="6.2" stroke-linecap="round" stroke-linejoin="round"/>
<path d="M364.4,1101.2 L357,1099" fill="none" stroke="#c6c6c6" stroke-width="6.2" stroke-linecap="round" stroke-linejoin="round"/>
<circle cx="317.4" cy="1111.1" r="4.5" fill="#5c3321"/>
<circle cx="360.6" cy="1111.1" r="4.5" fill="#5c3321"/>
<path d="M339,1108.8 C340.2,1114.5149999999999 344,1117.0 344,1121.5 A5,5 0 0 1 334,1121.5 C334,1117.0 337.8,1114.5149999999999 339,1108.8 Z" fill="#ef7060"/>
<path d="M329.5,1138.2 Q339.0,1126.9999999999998 348.5,1138.2" fill="none" stroke="#5c3321" stroke-width="3.5" stroke-linecap="round" stroke-linejoin="round"/>
</svg></body></html>
